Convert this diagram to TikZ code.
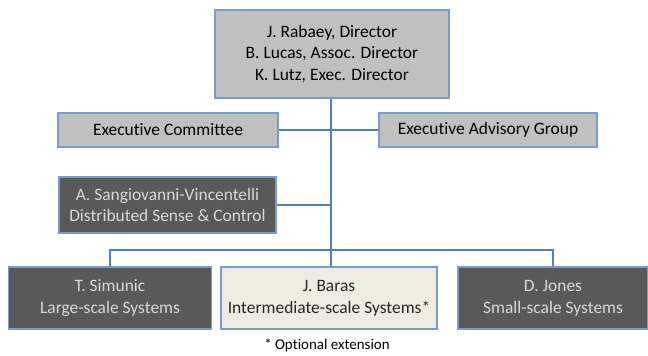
\documentclass[tikz,border=0pt]{standalone}
\usepackage{fontspec}
\setmainfont{Carlito}[Ligatures=NoCommon]
\definecolor{boxgray}{HTML}{C0C0C0}
\definecolor{boxdark}{HTML}{595959}
\definecolor{boxtan}{HTML}{EEECE1}
\definecolor{boxrim}{HTML}{7B9BC9}
\definecolor{linkblue}{HTML}{4F81BD}
\definecolor{textlight}{HTML}{D9D9D9}

\begin{document}
\begin{tikzpicture}[
		x=1bp,
		y=-1bp,
		every node/.style={
			font=\fontsize{17.5}{22}\selectfont,
			align=center,
			inner sep=0pt,
		},
		unit/.style={
			draw=boxrim,
			line width=1.3bp,
			fill=boxgray,
			text=black,
		},
		darkunit/.style={
			unit,
			fill=boxdark,
			text=textlight,
		},
		tanunit/.style={
			unit,
			fill=boxtan,
			text=black!85,
		},
		link/.style={
			draw=linkblue,
			line width=1.8bp,
		},
	]
		\useasboundingbox (0,0) rectangle (648,355);
		% leadership
		\node[unit, minimum width=234bp, minimum height=88bp] (dir) at (332,54)
			{J. Rabaey, Director\\B. Lucas, Assoc. Director\\K. Lutz, Exec. Director};
		% committees
		\node[unit, minimum width=220bp, minimum height=34bp] (exc) at (168,130) {Executive Committee};
		\node[unit, minimum width=218bp, minimum height=34bp] (eag) at (488,130) {Executive Advisory Group};
		% cross-cutting theme
		\node[darkunit, minimum width=217bp, minimum height=56bp] (dsc) at (167.5,205)
			{A. Sangiovanni-Vincentelli\\Distributed Sense \& Control};
		% system scales
		\node[darkunit, minimum width=203bp, minimum height=62bp] (lss) at (110,298)
			{T. Simunic\\Large-scale Systems};
		\node[tanunit, minimum width=216bp, minimum height=62bp] (iss) at (329,298)
			{J. Baras\\Intermediate-scale Systems*};
		\node[darkunit, minimum width=190bp, minimum height=62bp] (sss) at (553,298)
			{D. Jones\\Small-scale Systems};
		\node[font=\fontsize{15}{17}\selectfont] (note) at (327,345) {* Optional extension};

		\coordinate (trunk) at (331,250);
		\draw[link] (dir.south -| trunk) -- (trunk);
		\draw[link] (exc.east) -- (eag.west);
		\draw[link] (dsc.east) -- (dsc.east -| trunk);
		\draw[link] (lss.north) |- (trunk) -| (sss.north);
		\draw[link] (trunk) -- (iss.north -| trunk);
\end{tikzpicture}
\end{document}
